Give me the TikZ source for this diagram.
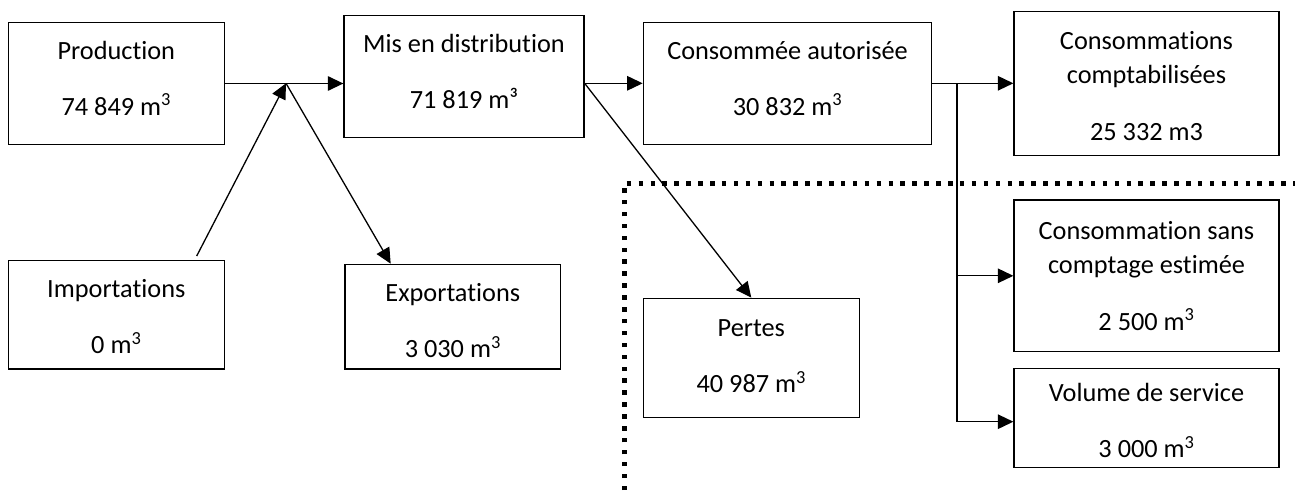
\documentclass[tikz,border=0pt]{standalone}
\usepackage{fontspec}
\setmainfont[Ligatures=NoCommon]{Carlito}
\usetikzlibrary{arrows.meta}
\tikzset{
    boite/.style 2 args={draw, line width=1.3pt, inner sep=0pt, align=center,
        font=\fontsize{26.3}{34}\selectfont, text height=#1, text depth=#2},
    fleche/.style={line width=1.3pt, -{Triangle[length=15.5pt,width=14.5pt]}},
    trait/.style={line width=1.3pt},
    pointille/.style={line width=5pt, dash pattern=on 4.5pt off 7.4pt}
}
\begin{document}
\begin{tikzpicture}[x=1pt,y=-1pt]
            \useasboundingbox (0,0) rectangle (1295,495);
            \node[boite={76.5pt}{13.5pt}, minimum width=216pt, minimum height=121.6pt] (prod) at (116.3,83.5) {Production\\[22pt]74 849 m\textsuperscript{3}};
            \node[boite={83.5pt}{6.5pt}, minimum width=216pt, minimum height=108.3pt] (import) at (116.3,314.8) {Importations\\[22pt]0 m\textsuperscript{3}};
            \node[boite={76.8pt}{13.2pt}, minimum width=240pt, minimum height=121.6pt] (distrib) at (464,76.5) {Mis en distribution\\[22pt]71 819 m³};
            \node[boite={85.6pt}{4.4pt}, minimum width=215.7pt, minimum height=104.7pt] (export) at (452.8,316.7) {Exportations\\[22pt]3 030 m\textsuperscript{3}};
            \node[boite={76.7pt}{13.3pt}, minimum width=288.4pt, minimum height=122pt] (conso) at (787.5,83.3) {Consommée autorisée\\[22pt]30 832 m\textsuperscript{3}};
            \node[boite={79.5pt}{10.5pt}, minimum width=216pt, minimum height=119pt] (pertes) at (751.3,357.8) {Pertes\\[22pt]40 987 m\textsuperscript{3}};
            \node[boite={116.3pt}{3.7pt}, minimum width=265pt, minimum height=144pt] (compta) at (1146.5,83.7) {Consommations\\comptabilisées\\[22.5pt]25 332 m3};
            \node[boite={114.2pt}{5.8pt}, minimum width=265pt, minimum height=151.7pt] (sanscompt) at (1146.5,275.8) {Consommation sans\\comptage estimée\\[22.5pt]2 500 m\textsuperscript{3}};
            \node[boite={84.3pt}{5.7pt}, minimum width=265pt, minimum height=99.4pt] (service) at (1146.5,418) {Volume de service\\[22pt]3 000 m\textsuperscript{3}};
            \coordinate (jonction) at (286,83.3);
            \coordinate (branche) at (957,83.3);
            \draw[fleche] (prod.east) -- (prod.east -| distrib.west);
            \draw[fleche] ([xshift=80.4pt,yshift=4pt]import.north) -- (jonction);
            \draw[fleche] (jonction) -- ([xshift=-62.1pt]export.north);
            \draw[fleche] (conso.west -| distrib.east) -- (conso.west);
            \draw[fleche] (conso.west -| distrib.east) -- (pertes.north);
            \draw[fleche] (conso.east) -- (conso.east -| compta.west);
            \draw[trait] (branche) -- (branche |- service.west) -- ++(0,3.7);
            \draw[fleche] (branche |- sanscompt.west) -- (sanscompt.west);
            \draw[fleche] ([yshift=-3.7pt]branche |- service.west) -- ([yshift=-3.7pt]service.west);
            \draw[pointille] (624,490) -- (624,183.3) -- (1295,183.3);
\end{tikzpicture}
\end{document}
